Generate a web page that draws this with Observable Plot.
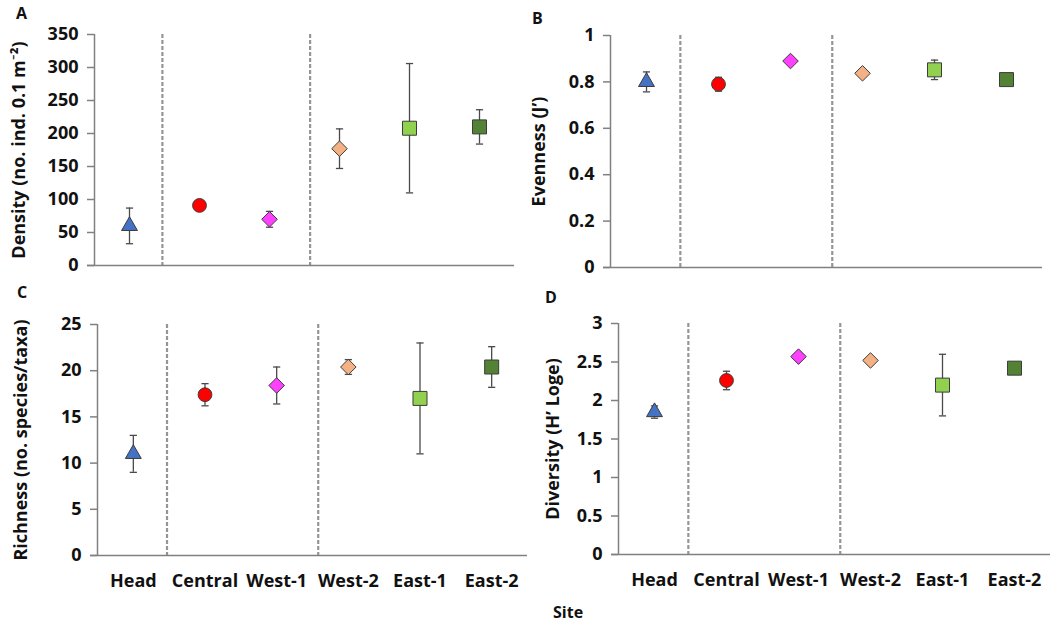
<!DOCTYPE html>
<html>
<head>
<meta charset="utf-8">
<script src="https://cdn.jsdelivr.net/npm/d3@7"></script>
<script src="https://cdn.jsdelivr.net/npm/@observablehq/plot@0.6"></script>
<style>
  body { margin: 0; background: #fff; }
  #fig { position: relative; width: 1052px; height: 628px; font-family: "Open Sans", Lato, sans-serif; color: #111; }
  .panel { position: absolute; }
  .tag { position: absolute; font-weight: 700; font-size: 16px; line-height: 1; }
</style>
</head>
<body>
<div id="fig"></div>
<script>
// Sites along the x axis
const sites = ["Head", "Central", "West-1", "West-2", "East-1", "East-2"];

// Means and error half-widths per site
const density      = [60, 91, 70, 177, 208, 210];
const densityErr   = [27, 3, 12, 30, 98, 26];
const evenness     = [0.80, 0.79, 0.89, 0.837, 0.852, 0.81];
const evennessErr  = [0.043, 0.03, 0.01, 0.01, 0.042, 0.01];
const richness     = [11, 17.4, 18.4, 20.4, 17, 20.4];
const richnessErr  = [2, 1.2, 2, 0.8, 6, 2.2];
const diversity    = [1.85, 2.26, 2.57, 2.52, 2.2, 2.42];
const diversityErr = [0.08, 0.12, 0.05, 0.02, 0.4, 0.02];

// Marker look per site
const siteFill   = ["#4472c4", "#ff0000", "#ff40ff", "#f4b183", "#92d050", "#548235"];
const siteSymbol = ["triangle", "circle", "diamond2", "diamond2", "square", "square"];

// Dashed separators between site groups (x in site-index units)
const dividers = [1.47, 3.58];

const axisGray = "#808080";
const barColor = "#4a4a4a";
const markerRadius = {triangle: 5.9, circle: 6.9, diamond2: 7.0, square: 7.9};

// Horizontal cap drawn at the ends of each error bar
const cap = {draw(ctx) { ctx.moveTo(-3.6, 0); ctx.lineTo(3.6, 0); }};

const panels = [
  {tag: "A", values: density, errs: densityErr, domain: [0, 350], ticks: d3.range(0, 351, 50),
   label: "Density (no. ind. 0.1 m\u207B\u00B2)", left: 0, top: 0, width: 526, height: 280,
   margin: [34, 12, 15, 94], labelOffset: 82, siteLabels: false, tagPos: [16, 5]},
  {tag: "B", values: evenness, errs: evennessErr, domain: [0, 1], ticks: d3.range(0, 1.01, 0.2),
   label: "Evenness (J\u2019)", left: 530, top: 0, width: 522, height: 280,
   margin: [35, 10, 13, 80], labelOffset: 78, siteLabels: false, tagPos: [532, 10]},
  {tag: "C", values: richness, errs: richnessErr, domain: [0, 25], ticks: d3.range(0, 26, 5),
   label: "Richness (no. species/taxa)", left: 0, top: 300, width: 530, height: 328,
   margin: [24, 3, 73, 97], labelOffset: 83, siteLabels: true, tagPos: [17, 284]},
  {tag: "D", values: diversity, errs: diversityErr, domain: [0, 3], ticks: d3.range(0, 3.01, 0.5),
   label: "Diversity (H\u2019 Loge)", left: 530, top: 300, width: 522, height: 328,
   margin: [23, 2, 74, 88], labelOffset: 72, siteLabels: true, tagPos: [545, 289]}
];

const fig = document.getElementById("fig");

for (const p of panels) {
  const rows = sites.map((s, k) => ({
    i: k + 1, site: s, v: p.values[k],
    lo: p.values[k] - p.errs[k], hi: p.values[k] + p.errs[k],
    fill: siteFill[k], symbol: siteSymbol[k]
  }));
  const [mt, mr, mb, ml] = p.margin;
  const marks = [
    Plot.ruleX(dividers, {x: d => d, stroke: "#959595", strokeWidth: 2.2, strokeDasharray: "4,2"}),
    Plot.ruleX([0.5], {stroke: axisGray, strokeWidth: 1.5}),
    Plot.ruleY([0], {stroke: axisGray, strokeWidth: 1.5, insetLeft: -7}),
    Plot.axisY({
      ticks: p.ticks, tickSize: 7, tickPadding: 9, tickFormat: d3.format("~g"),
      stroke: axisGray, strokeWidth: 1.5, fill: "#111", fontSize: 18, fontWeight: 700,
      label: p.label, labelAnchor: "center", labelArrow: "none", labelOffset: p.labelOffset
    }),
    Plot.ruleX(rows, {x: "i", y1: "lo", y2: "hi", stroke: barColor, strokeWidth: 1.3}),
    Plot.dot(rows, {x: "i", y: "hi", symbol: cap, stroke: barColor, strokeWidth: 1.3}),
    Plot.dot(rows, {x: "i", y: "lo", symbol: cap, stroke: barColor, strokeWidth: 1.3}),
    ...rows.map(r => Plot.dot([r], {
      x: "i", y: "v", symbol: r.symbol, r: markerRadius[r.symbol],
      fill: r.fill, stroke: "#3c3c3c", strokeWidth: 1
    }))
  ];
  if (p.siteLabels) {
    marks.push(Plot.axisX({
      ticks: d3.range(1, 7), tickFormat: i => sites[i - 1], tickSize: 0, tickPadding: 19,
      fill: "#111", fontSize: 18, fontWeight: 700, label: null
    }));
  }
  const chart = Plot.plot({
    width: p.width, height: p.height,
    marginTop: mt, marginRight: mr, marginBottom: mb, marginLeft: ml,
    style: {fontFamily: "'Open Sans', Lato, sans-serif", fontWeight: 700, color: "#111", background: "transparent", overflow: "visible"},
    x: {type: "linear", domain: [0.5, 6.5], axis: p.siteLabels ? undefined : null},
    y: {domain: p.domain},
    marks
  });
  const holder = document.createElement("div");
  holder.className = "panel";
  holder.style.left = p.left + "px";
  holder.style.top = p.top + "px";
  holder.appendChild(chart);
  fig.appendChild(holder);

  const tag = document.createElement("div");
  tag.className = "tag";
  tag.textContent = p.tag;
  tag.style.left = p.tagPos[0] + "px";
  tag.style.top = p.tagPos[1] + "px";
  fig.appendChild(tag);
}

const site = document.createElement("div");
site.className = "tag";
site.textContent = "Site";
site.style.left = "553px";
site.style.top = "604px";
fig.appendChild(site);
</script>
</body>
</html>
